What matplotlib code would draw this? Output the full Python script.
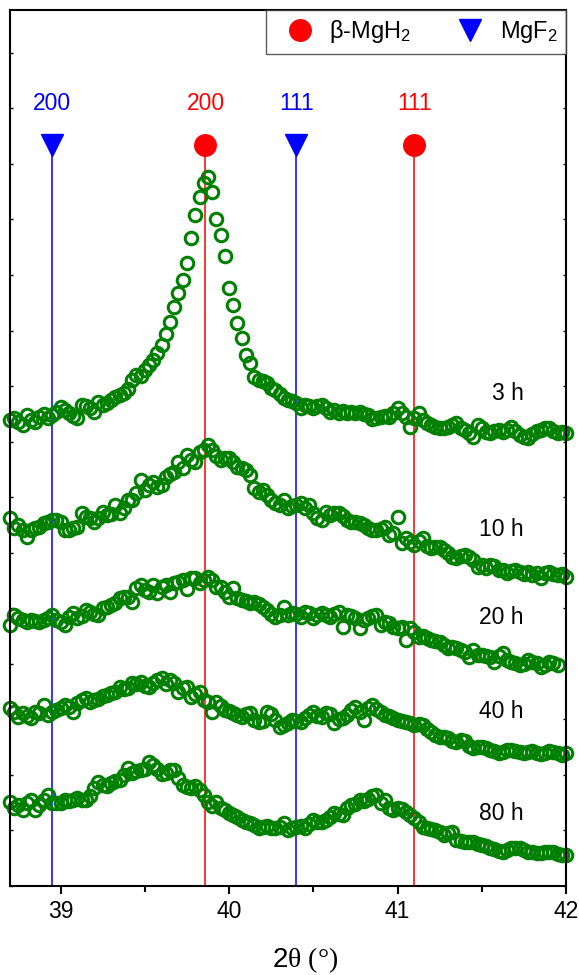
import numpy as np
import matplotlib
matplotlib.use("Agg")
import matplotlib.pyplot as plt
from matplotlib.ticker import MultipleLocator, NullFormatter
from matplotlib.lines import Line2D

plt.rcParams['font.family'] = ['Liberation Sans', 'DejaVu Sans']
plt.rcParams['mathtext.fontset'] = 'custom'
plt.rcParams['mathtext.rm'] = 'Liberation Serif'
plt.rcParams['mathtext.it'] = 'Liberation Serif'

# 2theta grid (step 0.025 deg)
two_theta = np.round(np.arange(38.7, 42.0001, 0.025), 3)

# stacked intensities (a.u.), one pattern per milling time
i_3h = [466, 468, 464, 461, 471, 466, 464, 469, 472, 468,
        471, 474, 479, 476, 473, 470, 468, 481, 480, 478,
        474, 484, 481, 483, 486, 489, 491, 493, 497, 506,
        511, 510, 516, 521, 526, 533, 541, 552, 564, 579,
        593, 606, 623, 648, 671, 689, 703, 709, 694, 667,
        651, 630, 598, 581, 563, 548, 531, 523, 509, 506,
        505, 503, 498, 496, 492, 488, 486, 485, 483, 478,
        481, 480, 478, 480, 481, 478, 474, 476, 473, 475,
        473, 474, 473, 474, 472, 471, 467, 468, 469, 470,
        469, 473, 478, 473, 469, 459, 468, 473, 466, 463,
        461, 459, 458, 458, 459, 461, 463, 458, 456, 453,
        449, 461, 458, 454, 453, 455, 456, 454, 456, 459,
        455, 451, 449, 448, 452, 455, 456, 458, 458, 455,
        453, 454, 453]

i_10h = [368, 358, 361, 356, 349, 356, 358, 359, 363, 364,
         366, 366, 364, 356, 356, 358, 359, 373, 369, 368,
         364, 368, 374, 371, 372, 381, 373, 378, 386, 386,
         393, 406, 396, 401, 404, 399, 401, 409, 412, 414,
         424, 418, 431, 426, 424, 434, 436, 441, 436, 430,
         426, 428, 428, 424, 419, 418, 416, 411, 398, 394,
         396, 391, 386, 383, 381, 386, 378, 380, 381, 383,
         378, 381, 373, 368, 366, 374, 371, 373, 373, 370,
         366, 364, 364, 363, 361, 358, 356, 356, 357, 359,
         351, 353, 369, 343, 348, 344, 341, 345, 348, 340,
         338, 339, 339, 336, 333, 329, 328, 330, 331, 329,
         326, 319, 321, 318, 321, 320, 316, 316, 313, 315,
         316, 314, 312, 314, 311, 313, 308, 313, 314, 312,
         311, 312, 309]

i_20h = [261, 271, 268, 266, 264, 266, 265, 264, 266, 268,
         271, 266, 264, 261, 269, 273, 268, 270, 276, 274,
         272, 271, 278, 279, 281, 283, 288, 289, 289, 284,
         298, 301, 296, 294, 301, 293, 299, 301, 294, 303,
         304, 306, 297, 308, 308, 303, 306, 309, 306, 299,
         299, 294, 289, 298, 288, 286, 285, 283, 284, 282,
         279, 276, 272, 269, 271, 279, 271, 273, 272, 269,
         274, 273, 268, 271, 273, 271, 269, 272, 274, 259,
         271, 270, 268, 258, 266, 268, 270, 271, 261, 264,
         263, 259, 258, 259, 246, 258, 254, 249, 250, 248,
         246, 245, 244, 241, 238, 239, 238, 236, 234, 229,
         236, 231, 231, 230, 229, 224, 230, 233, 226, 224,
         223, 221, 222, 226, 224, 223, 219, 221, 224, 223,
         221]

i_40h = [178, 174, 169, 173, 170, 168, 174, 173, 181, 171,
         174, 176, 178, 181, 179, 174, 183, 186, 188, 184,
         186, 187, 190, 191, 193, 194, 199, 197, 198, 203,
         202, 204, 200, 199, 203, 206, 208, 202, 206, 203,
         194, 198, 199, 189, 192, 194, 186, 184, 174, 184,
         180, 176, 175, 173, 171, 169, 172, 173, 166, 164,
         165, 174, 172, 166, 159, 161, 163, 166, 165, 164,
         168, 171, 174, 170, 169, 173, 172, 163, 167, 168,
         171, 176, 179, 174, 166, 178, 181, 177, 174, 171,
         170, 168, 166, 165, 164, 163, 161, 162, 161, 157,
         154, 151, 149, 149, 148, 145, 144, 146, 145, 140,
         138, 139, 139, 138, 136, 135, 133, 134, 136, 136,
         135, 134, 133, 134, 135, 133, 132, 133, 135, 134,
         133, 131, 133]

i_80h = [84, 78, 81, 76, 83, 86, 76, 81, 86, 91,
         83, 83, 83, 86, 85, 86, 88, 86, 86, 90,
         98, 104, 101, 100, 103, 105, 106, 111, 118, 113,
         115, 116, 117, 124, 121, 117, 112, 113, 116, 116,
         108, 101, 99, 98, 100, 96, 91, 84, 80, 84,
         78, 76, 73, 71, 69, 66, 64, 63, 61, 58,
         59, 60, 58, 58, 59, 63, 56, 58, 59, 60,
         58, 62, 66, 64, 64, 66, 69, 73, 72, 71,
         78, 81, 82, 86, 85, 87, 90, 91, 83, 86,
         78, 76, 78, 77, 74, 71, 68, 64, 59, 58,
         57, 56, 54, 51, 53, 54, 46, 45, 44, 44,
         44, 42, 41, 40, 38, 37, 35, 34, 36, 38,
         38, 38, 36, 34, 34, 33, 33, 34, 34, 34,
         32, 31, 31]

patterns = [i_3h, i_10h, i_20h, i_40h, i_80h]
time_labels = ['3 h', '10 h', '20 h', '40 h', '80 h']
label_y = [493, 356, 269, 174, 73]

# reference reflections
mgh2_pos = [39.86, 41.1]
mgh2_hkl = ['200', '111']
mgf2_pos = [38.95, 40.4]
mgf2_hkl = ['200', '111']
ref_top = 741
hkl_y = 783

fig = plt.figure(figsize=(5.79, 9.75), dpi=100)
ax = fig.add_axes([10 / 579, 89 / 975, 556 / 579, 876 / 975])

for pos, hkl in zip(mgf2_pos, mgf2_hkl):
    ax.plot([pos, pos], [0, ref_top], color='#0000ff', lw=1.1, zorder=1)
    ax.plot(pos, ref_top, marker='v', color='#0000ff', ms=16, zorder=3, clip_on=False)
    ax.text(pos, hkl_y, hkl, color='#0000ff', fontsize=16.5, ha='center', va='center')
for pos, hkl in zip(mgh2_pos, mgh2_hkl):
    ax.plot([pos, pos], [0, ref_top], color='#ff0000', lw=1.1, zorder=1)
    ax.plot(pos, ref_top, marker='o', color='#ff0000', ms=15.5, zorder=3, clip_on=False)
    ax.text(pos, hkl_y, hkl, color='#ff0000', fontsize=16.5, ha='center', va='center')

for y, lab, ly in zip(patterns, time_labels, label_y):
    ax.plot(two_theta[:len(y)], y, ls='none', marker='o', ms=9, mfc='none',
            mec='#008000', mew=2.2, zorder=2, clip_on=False)
    ax.text(41.75, ly, lab, fontsize=16.5, ha='right', va='center')

ax.set_xlim(38.7, 42.0)
ax.set_ylim(0, 876)

ax.xaxis.set_major_locator(MultipleLocator(1))
ax.xaxis.set_minor_locator(MultipleLocator(0.5))
ax.yaxis.set_major_locator(MultipleLocator(55.55))
ax.yaxis.set_major_formatter(NullFormatter())
ax.tick_params(axis='x', which='major', direction='out', length=6, width=1.5,
               labelsize=16.5, pad=4)
ax.tick_params(axis='x', which='minor', direction='out', length=4, width=1.5)
ax.tick_params(axis='y', which='major', direction='in', length=2.5, width=1,
               left=True, right=True)
for s in ax.spines.values():
    s.set_linewidth(1.5)

fig.text(305 / 579, 1 - 960 / 975, r'2$\mathrm{\theta\ (°)}$', fontsize=20,
         ha='center', va='center')

handles = [Line2D([], [], ls='none', marker='o', color='#ff0000', ms=15.5),
           Line2D([], [], ls='none', marker='v', color='#0000ff', ms=16)]
leg = ax.legend(handles, [r'β-MgH$_\mathregular{2}$', r'MgF$_\mathregular{2}$'],
                loc='upper right', ncol=2, fontsize=17, frameon=True, fancybox=False,
                borderaxespad=0, handletextpad=0.15, columnspacing=1.4,
                borderpad=0.35, handlelength=2.2)
leg.get_frame().set_edgecolor('#333333')
leg.get_frame().set_linewidth(1.0)

fig.savefig('out.png', dpi=100)
